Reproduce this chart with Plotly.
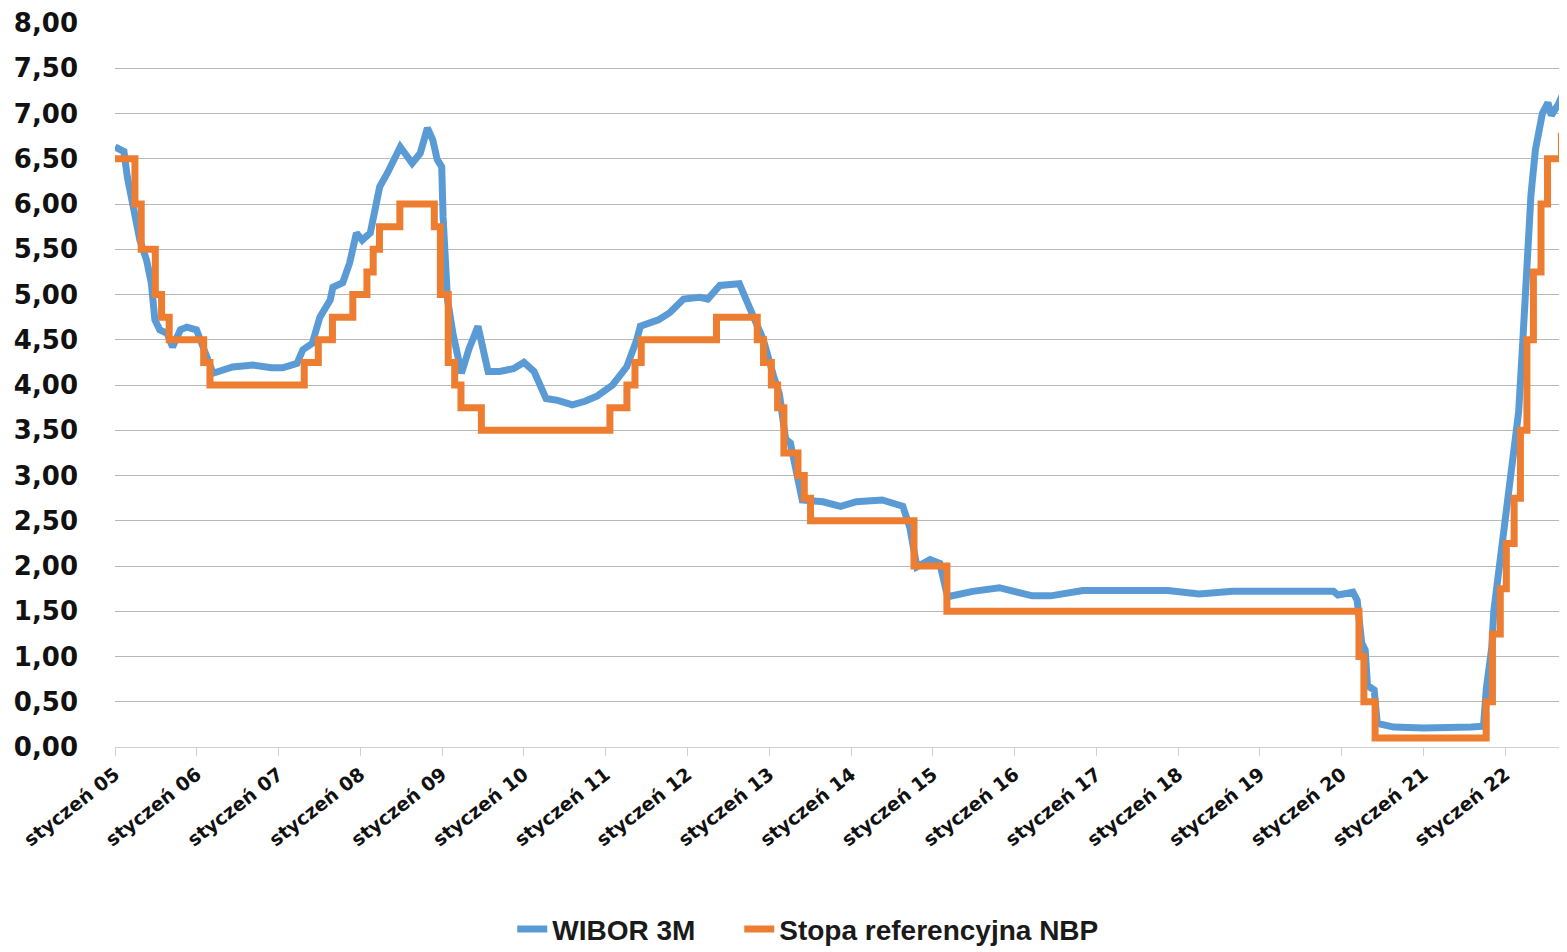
import plotly.graph_objects as go

# WIBOR 3M
wibor_dates = [
    "2005-01-01", "2005-02-10", "2005-02-25", "2005-03-20", "2005-04-22", "2005-05-22",
    "2005-06-12", "2005-06-28", "2005-07-20", "2005-08-22", "2005-09-15", "2005-10-20",
    "2005-11-18", "2005-12-31", "2006-02-01", "2006-03-15", "2006-06-10", "2006-09-10",
    "2006-12-01", "2007-01-20", "2007-03-25", "2007-04-20", "2007-06-01", "2007-07-05",
    "2007-08-20", "2007-09-01", "2007-10-15", "2007-11-15", "2007-12-15", "2008-01-10",
    "2008-02-15", "2008-03-28", "2008-05-01", "2008-06-28", "2008-08-20", "2008-09-25",
    "2008-10-27", "2008-11-20", "2008-12-10", "2008-12-30", "2009-01-05", "2009-01-25",
    "2009-02-18", "2009-03-28", "2009-05-01", "2009-06-10", "2009-07-25", "2009-09-15",
    "2009-11-15", "2010-01-01", "2010-02-15", "2010-04-10", "2010-06-01", "2010-08-05",
    "2010-10-01", "2010-11-25", "2011-02-01", "2011-04-05", "2011-05-20", "2011-06-05",
    "2011-08-25", "2011-10-15", "2011-12-15", "2012-02-25", "2012-04-01", "2012-05-25",
    "2012-08-20", "2012-09-25", "2012-10-20", "2012-12-05", "2013-01-20", "2013-02-15",
    "2013-03-15", "2013-04-05", "2013-05-28", "2013-08-28", "2013-11-15", "2014-01-25",
    "2014-05-20", "2014-08-20", "2014-09-20", "2014-10-22", "2014-12-20", "2015-02-01",
    "2015-03-08", "2015-06-28", "2015-10-25", "2016-03-20", "2016-06-10", "2016-11-01",
    "2017-11-15", "2018-04-05", "2018-09-01", "2019-11-25", "2019-12-15", "2020-02-20",
    "2020-03-10", "2020-03-30", "2020-04-15", "2020-04-25", "2020-05-25", "2020-06-08",
    "2020-08-20", "2021-01-01", "2021-08-01", "2021-09-25", "2021-10-08", "2021-11-01",
    "2021-11-10", "2021-12-01", "2021-12-20", "2022-01-10", "2022-02-01", "2022-03-01",
    "2022-03-20", "2022-04-08", "2022-04-25", "2022-05-15", "2022-06-15", "2022-07-10",
    "2022-07-25", "2022-08-25", "2022-10-03",
]
wibor_values = [
    6.63, 6.58, 6.30, 5.97, 5.60, 5.38,
    5.13, 4.72, 4.61, 4.57, 4.42, 4.61,
    4.64, 4.61, 4.39, 4.13, 4.20, 4.22,
    4.19, 4.19, 4.24, 4.39, 4.46, 4.75,
    4.94, 5.08, 5.13, 5.35, 5.68, 5.60,
    5.68, 6.19, 6.34, 6.63, 6.45, 6.56,
    6.84, 6.71, 6.49, 6.41, 5.86, 4.94,
    4.57, 4.13, 4.40, 4.65, 4.15, 4.15,
    4.18, 4.25, 4.15, 3.85, 3.83, 3.78,
    3.82, 3.88, 4.00, 4.20, 4.50, 4.65,
    4.72, 4.80, 4.95, 4.97, 4.95, 5.10,
    5.12, 4.90, 4.75, 4.50, 4.10, 3.90,
    3.40, 3.36, 2.73, 2.71, 2.66, 2.71,
    2.73, 2.66, 2.43, 1.99, 2.07, 2.03,
    1.66, 1.72, 1.76, 1.67, 1.67, 1.73,
    1.73, 1.69, 1.72, 1.72, 1.68, 1.71,
    1.62, 1.15, 1.07, 0.68, 0.63, 0.26,
    0.22, 0.21, 0.22, 0.23, 0.65, 1.10,
    1.50, 1.90, 2.20, 2.60, 3.10, 3.70,
    4.50, 5.50, 6.10, 6.60, 7.00, 7.12,
    6.98, 7.10, 7.32,
]

# Stopa referencyjna NBP (step changes)
nbp_dates = [
    "2005-01-01", "2005-03-31", "2005-04-28", "2005-06-30", "2005-07-28", "2005-08-31",
    "2006-02-01", "2006-03-01", "2007-04-26", "2007-06-28", "2007-08-30", "2007-11-29",
    "2008-01-31", "2008-02-28", "2008-03-27", "2008-06-26", "2008-11-27", "2008-12-24",
    "2009-01-28", "2009-02-26", "2009-03-26", "2009-06-25", "2011-01-20", "2011-04-06",
    "2011-05-12", "2011-06-09", "2012-05-10", "2012-11-08", "2012-12-06", "2013-01-10",
    "2013-02-07", "2013-03-07", "2013-05-09", "2013-06-06", "2013-07-04", "2014-10-09",
    "2015-03-05", "2020-03-18", "2020-04-09", "2020-05-29", "2021-10-07", "2021-11-04",
    "2021-12-09", "2022-01-05", "2022-02-09", "2022-03-09", "2022-04-07", "2022-05-06",
    "2022-06-09", "2022-07-08", "2022-09-08", "2022-10-03",
]
nbp_values = [
    6.50, 6.00, 5.50, 5.00, 4.75, 4.50,
    4.25, 4.00, 4.25, 4.50, 4.75, 5.00,
    5.25, 5.50, 5.75, 6.00, 5.75, 5.00,
    4.25, 4.00, 3.75, 3.50, 3.75, 4.00,
    4.25, 4.50, 4.75, 4.50, 4.25, 4.00,
    3.75, 3.25, 3.00, 2.75, 2.50, 2.00,
    1.50, 1.00, 0.50, 0.10, 0.50, 1.25,
    1.75, 2.25, 2.75, 3.50, 4.50, 5.25,
    6.00, 6.50, 6.75, 6.75,
]

tick_dates = [f"{y}-01-01" for y in range(2005, 2023)]
tick_labels = [f"styczeń {y % 100:02d}" for y in range(2005, 2023)]
y_ticks = [i * 0.5 for i in range(17)]

fig = go.Figure()
fig.add_trace(go.Scatter(
    x=wibor_dates, y=wibor_values, mode="lines",
    name="WIBOR 3M" + "\u00a0" * 5,
    line=dict(color="#5B9BD5", width=7),
))
fig.add_trace(go.Scatter(
    x=nbp_dates, y=nbp_values, mode="lines", name="Stopa referencyjna NBP",
    line=dict(color="#ED7D31", width=7, shape="hv"),
))

# page body adds an 8px offset; the figure is sized so the plot lands where the reference has it
fig.update_layout(
    width=1559, height=944, autosize=False,
    margin=dict(l=107, r=0, t=15, b=205, autoexpand=False),
    paper_bgcolor="white", plot_bgcolor="white",
    separators=",.",
    showlegend=True,
    legend=dict(
        orientation="h", xref="container", yref="container",
        x=0.513, xanchor="center", y=0.024, yanchor="middle",
        font=dict(family="Liberation Sans", size=28, color="#1a1a1a", weight="bold"),
        tracegroupgap=0,
    ),
    xaxis=dict(
        type="date", range=["2005-01-01", "2022-10-03"], automargin=False,
        tickmode="array", tickvals=tick_dates, ticktext=tick_labels,
        tickangle=-38, ticks="outside", ticklen=8, tickcolor="#d0d0d0",
        showgrid=False, showline=True, linecolor="#d0d0d0", linewidth=1,
        tickfont=dict(family="DejaVu Sans", size=19, color="#111111", weight="bold"),
        zeroline=False,
    ),
    yaxis=dict(
        range=[0, 8], tickmode="array", tickvals=y_ticks, tickformat=".2f",
        automargin=False,
        showgrid=True, gridcolor="#b8b8b8", gridwidth=1,
        zeroline=False, showline=False, ticks="",
        ticklabelstandoff=36,
        tickfont=dict(family="DejaVu Sans", size=26, color="#111111", weight="bold"),
    ),
)

fig.write_html("out.html")
